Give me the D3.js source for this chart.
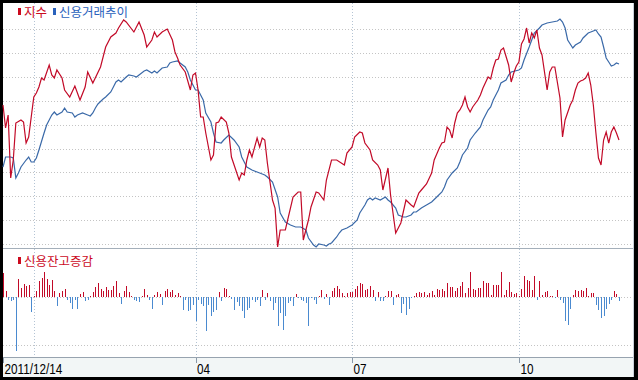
<!DOCTYPE html>
<html>
<head>
<meta charset="utf-8">
<script src="https://cdn.jsdelivr.net/npm/d3@7/dist/d3.min.js"></script>
<style>
  body { margin: 0; background: #000; }
  svg { display: block; }
</style>
</head>
<body>
<div id="chart"></div>
<script>
// 지수 (index) : [trading day, level]
const indexPts = [[0,1923],[1,1900],[2,1913],[3,1850],[4,1868],[5,1905],[7,1908],[8,1906],[9,1885],[10,1891],[11,1911],[12,1931],[13,1935],[14,1941],[15,1950],[16,1948],[18,1963],[19,1953],[20,1950],[21,1958],[23,1950],[24,1938],[26,1931],[28,1942],[30,1928],[32,1941],[33,1956],[35,1945],[38,1961],[40,1981],[42,1991],[44,1995],[45,2000],[47,2008],[48,2006],[51,1996],[53,2006],[55,1993],[56,1981],[58,1988],[59,1996],[60,1991],[62,1996],[64,1999],[66,1988],[67,1976],[68,1970],[69,1963],[71,1956],[73,1938],[74,1953],[75,1955],[76,1938],[77,1911],[78,1911],[79,1895],[81,1868],[82,1873],[83,1905],[84,1906],[85,1911],[87,1906],[88,1895],[89,1871],[92,1848],[93,1855],[94,1853],[95,1868],[96,1878],[97,1871],[99,1890],[100,1881],[101,1890],[102,1888],[103,1865],[105,1828],[106,1820],[107,1781],[108,1798],[110,1798],[113,1831],[115,1836],[116,1836],[117,1788],[119,1808],[120,1821],[122,1836],[123,1835],[125,1828],[126,1848],[128,1868],[130,1868],[133,1863],[134,1875],[136,1881],[137,1891],[139,1896],[140,1895],[141,1885],[143,1878],[144,1868],[146,1863],[147,1858],[148,1838],[150,1860],[151,1833],[153,1795],[155,1805],[157,1828],[159,1823],[160,1821],[162,1835],[163,1838],[165,1844],[167,1855],[168,1868],[170,1880],[171,1885],[172,1886],[173,1901],[174,1898],[175,1890],[176,1905],[177,1915],[178,1918],[179,1923],[180,1931],[181,1921],[182,1916],[183,1921],[185,1928],[186,1933],[187,1940],[189,1951],[190,1949],[191,1960],[192,1968],[193,1969],[194,1978],[195,1980],[197,1963],[198,1946],[199,1955],[200,1962],[201,1966],[202,1984],[203,1989],[204,2000],[205,1985],[206,1995],[207,1990],[208,1998],[209,1980],[210,1973],[212,1938],[213,1956],[214,1961],[215,1961],[217,1930],[218,1891],[219,1908],[221,1923],[222,1928],[223,1938],[224,1945],[225,1947],[226,1948],[227,1950],[228,1955],[229,1943],[230,1923],[231,1895],[232,1870],[233,1863],[234,1888],[235,1896],[236,1885],[237,1896],[238,1901],[239,1895],[240,1888]];

// 신용거래추이 (credit trend) : [trading day, level]
const creditPts = [[0,4381],[1,4391],[3,4391],[4,4390],[5,4370],[6,4375],[7,4381],[9,4388],[10,4391],[11,4386],[12,4386],[13,4390],[14,4398],[16,4415],[17,4423],[19,4433],[20,4436],[21,4433],[23,4436],[24,4440],[25,4436],[27,4435],[28,4431],[29,4433],[31,4435],[33,4433],[34,4432],[35,4435],[36,4440],[37,4444],[39,4449],[40,4451],[42,4456],[43,4461],[44,4466],[45,4468],[46,4466],[48,4471],[49,4473],[51,4472],[52,4471],[53,4473],[55,4477],[56,4478],[58,4475],[59,4477],[60,4475],[62,4480],[64,4481],[65,4485],[66,4486],[68,4487],[69,4485],[71,4481],[72,4476],[73,4468],[75,4458],[76,4458],[78,4448],[79,4435],[81,4426],[82,4415],[83,4406],[85,4405],[86,4408],[88,4413],[90,4408],[92,4401],[93,4391],[95,4381],[97,4378],[99,4376],[100,4375],[102,4373],[103,4371],[105,4366],[107,4351],[108,4335],[110,4326],[112,4323],[114,4321],[116,4321],[118,4318],[119,4310],[121,4303],[122,4301],[123,4304],[125,4303],[126,4302],[127,4304],[128,4305],[130,4311],[131,4315],[132,4318],[134,4320],[136,4323],[138,4328],[139,4335],[141,4343],[142,4348],[143,4350],[144,4348],[145,4350],[147,4348],[149,4351],[150,4348],[151,4346],[153,4340],[154,4333],[156,4331],[157,4331],[159,4333],[160,4336],[161,4336],[163,4340],[165,4343],[167,4346],[169,4351],[171,4356],[172,4361],[173,4368],[175,4375],[177,4380],[178,4386],[179,4393],[181,4400],[182,4408],[184,4415],[186,4421],[187,4428],[189,4438],[190,4441],[191,4448],[193,4458],[194,4465],[196,4468],[197,4473],[198,4476],[201,4478],[202,4480],[203,4488],[205,4501],[206,4508],[207,4515],[209,4520],[210,4523],[212,4525],[214,4526],[216,4527],[217,4529],[218,4526],[219,4520],[220,4508],[222,4500],[223,4503],[225,4506],[226,4510],[228,4515],[229,4516],[231,4518],[232,4514],[233,4511],[234,4501],[235,4490],[236,4486],[237,4482],[238,4483],[239,4485],[240,4484]];

// 신용잔고증감 (daily change of credit balance), one value per trading day
const balanceChange = [
  240, 57, -27, -43, -27, -543, 180, 90, 130, 110,
  123, -153, 7, 57, 157, 190, 247, 180, 123, 167,
  57, -93, 40, 57, 80, -33, -60, -120, -27, -120,
  33, 47, -43, -33, 7, 47, 100, 140, 80, 57,
  100, 67, 67, 113, 163, 40, -67, 57, 113, 47,
  13, -27, -43, -53, 7, 80, 23, -27, -120, 23,
  47, 33, -77, 57, 80, 47, 67, 23, 40, 13,
  -127, -27, -143, -133, -77, -243, -27, -67, -93, -343,
  -77, -193, -153, -133, 47, -43, 93, 80, 7, -20,
  -127, -53, -93, -143, -210, -127, -110, -33, -53, -27,
  -93, 73, -27, 40, -40, -127, -60, -287, -160, -333,
  -193, -60, -43, -93, 33, -10, -27, -43, -60, -287,
  -10, -33, -67, 13, 73, -20, 33, -77, 57, 90,
  107, 80, 40, 13, 40, 47, 47, 80, 113, 140,
  133, 67, 80, 107, 67, -43, 47, -43, -43, 13,
  57, 57, -77, 23, 33, -160, -67, -177, -120, -10,
  7, 40, 47, 40, 47, 23, 40, 57, 23, 80,
  73, 80, 57, 140, 100, 100, 57, 90, 107, 150,
  40, 90, 247, 80, 73, 90, 90, 163, 140, 140,
  23, 123, 117, 117, 253, 23, 73, 147, 47, 33,
  40, 7, 80, 207, 167, 157, 73, 207, -27, 157,
  23, 47, 57, 7, 7, -10, 67, -27, -60, -243,
  -277, -120, 23, 67, 57, 73, 57, 90, 7, 40,
  40, -77, -133, -210, -193, -120, -67, -27, 57, 33, -43
];

// x axis
const tickDays = [0, 75, 136, 201];
const tickLabels = ["2011/12/14", "04", "07", "10"];
const gridDays = [12, 75, 136, 201];

// Layout
const W = 638, H = 380;
const inner = { left: 3, top: 3, right: 634, bottom: 377 };
const topPanel = { top: 3, bottom: 248 };
const lowPanel = { top: 249, bottom: 357 };

const RED = "#c20a28", BLUE_LINE = "#3a69a8", BLUE_BAR = "#4a8ad0";
const korFont = "'Noto Sans CJK KR', 'Noto Sans', sans-serif";

const svg = d3.select("#chart")
  .append("svg")
  .attr("width", W)
  .attr("height", H);

// black frame + white plot area
svg.append("rect").attr("width", W).attr("height", H).attr("fill", "#000");
svg.append("rect")
  .attr("x", inner.left).attr("y", inner.top)
  .attr("width", inner.right - inner.left).attr("height", inner.bottom - inner.top)
  .attr("fill", "#fff");

// axis band
svg.append("rect")
  .attr("x", inner.left).attr("y", lowPanel.bottom)
  .attr("width", inner.right - inner.left).attr("height", inner.bottom - lowPanel.bottom)
  .attr("fill", "#f2f6f6");

// Scales
const x = d3.scaleLinear().domain([0, 240]).range([3, 619]);
const yIndex = d3.scaleLinear().domain([1780, 2025]).range([topPanel.bottom, topPanel.top]);
const yCredit = d3.scaleLinear().domain([4300, 4545]).range([topPanel.bottom, topPanel.top]);
const yBal = d3.scaleLinear().domain([-600, 470]).range([lowPanel.bottom, lowPanel.top + 1]);
const gridY = d3.scaleLinear().domain([0, 9]).range([244, 29.3]);

// horizontal dotted grid (top panel)
svg.append("g")
  .selectAll("line")
  .data(d3.range(10))
  .join("line")
  .attr("x1", inner.left).attr("x2", inner.right)
  .attr("y1", d => Math.round(gridY(d)) + 0.5)
  .attr("y2", d => Math.round(gridY(d)) + 0.5)
  .attr("stroke", "#c4c4c4")
  .attr("stroke-dasharray", "1,2");

// horizontal dotted grid (lower panel)
svg.append("g")
  .selectAll("line")
  .data([0, -480])
  .join("line")
  .attr("x1", inner.left).attr("x2", inner.right)
  .attr("y1", d => Math.round(yBal(d)) + 0.5)
  .attr("y2", d => Math.round(yBal(d)) + 0.5)
  .attr("stroke", "#c4c4c4")
  .attr("stroke-dasharray", "1,2");

// vertical dotted grid
svg.append("g")
  .selectAll("line")
  .data(gridDays)
  .join("line")
  .attr("x1", d => Math.round(x(d)) + 0.5)
  .attr("x2", d => Math.round(x(d)) + 0.5)
  .attr("y1", inner.top).attr("y2", lowPanel.bottom)
  .attr("stroke", "#b4c4d4")
  .attr("stroke-dasharray", "1,2");

// panel separators
svg.append("line")
  .attr("x1", inner.left).attr("x2", inner.right)
  .attr("y1", 248.5).attr("y2", 248.5)
  .attr("stroke", "#a4afba");
svg.append("line")
  .attr("x1", inner.left).attr("x2", inner.right)
  .attr("y1", 357.5).attr("y2", 357.5)
  .attr("stroke", "#97a3af");
svg.append("line")
  .attr("x1", 633.5).attr("x2", 633.5)
  .attr("y1", inner.top).attr("y2", inner.bottom)
  .attr("stroke", "#c8d0d8");

// Bars (신용잔고증감)
svg.append("g")
  .attr("shape-rendering", "crispEdges")
  .selectAll("rect")
  .data(balanceChange)
  .join("rect")
  .attr("x", (d, i) => Math.round(x(i)))
  .attr("width", 1)
  .attr("y", d => d >= 0 ? yBal(d) : yBal(0))
  .attr("height", d => Math.abs(yBal(d) - yBal(0)))
  .attr("fill", d => d >= 0 ? RED : BLUE_BAR);

// Lines
const creditLine = d3.line().x(d => x(d[0])).y(d => yCredit(d[1]));
const indexLine = d3.line().x(d => x(d[0])).y(d => yIndex(d[1]));

svg.append("path")
  .datum(creditPts)
  .attr("d", creditLine)
  .attr("fill", "none")
  .attr("stroke", BLUE_LINE)
  .attr("stroke-width", 1.2);

svg.append("path")
  .datum(indexPts)
  .attr("d", indexLine)
  .attr("fill", "none")
  .attr("stroke", RED)
  .attr("stroke-width", 1.2);

// Legends
const legend = [
  { label: "지수", color: "#cc0a1e", mx: 18, tx: 24, y: 17 },
  { label: "신용거래추이", color: "#2a62bc", mx: 53, tx: 59, y: 17 },
  { label: "신용잔고증감", color: "#cc0a1e", mx: 18, tx: 24, y: 266 }
];
legend.forEach(l => {
  svg.append("rect")
    .attr("x", l.mx).attr("y", l.y - 9)
    .attr("width", 3).attr("height", 7)
    .attr("fill", l.color);
  svg.append("text")
    .attr("x", l.tx).attr("y", l.y)
    .attr("font-family", korFont)
    .attr("font-size", 12.5)
    .attr("fill", l.color)
    .text(l.label);
});

// x axis ticks and labels
svg.append("g")
  .selectAll("line")
  .data(tickDays)
  .join("line")
  .attr("x1", d => Math.round(x(d)) + 0.5)
  .attr("x2", d => Math.round(x(d)) + 0.5)
  .attr("y1", 358).attr("y2", 363)
  .attr("stroke", "#8a98a8");

// narrow look: regular sans squeezed horizontally
svg.append("g")
  .selectAll("text")
  .data(tickDays)
  .join("text")
  .attr("transform", d => `translate(${x(d) + 1.5},374) scale(0.84,1)`)
  .attr("font-family", "'Liberation Sans', Arial, sans-serif")
  .attr("font-size", 14)
  .attr("fill", "#000")
  .text((d, i) => tickLabels[i]);
</script>
</body>
</html>
